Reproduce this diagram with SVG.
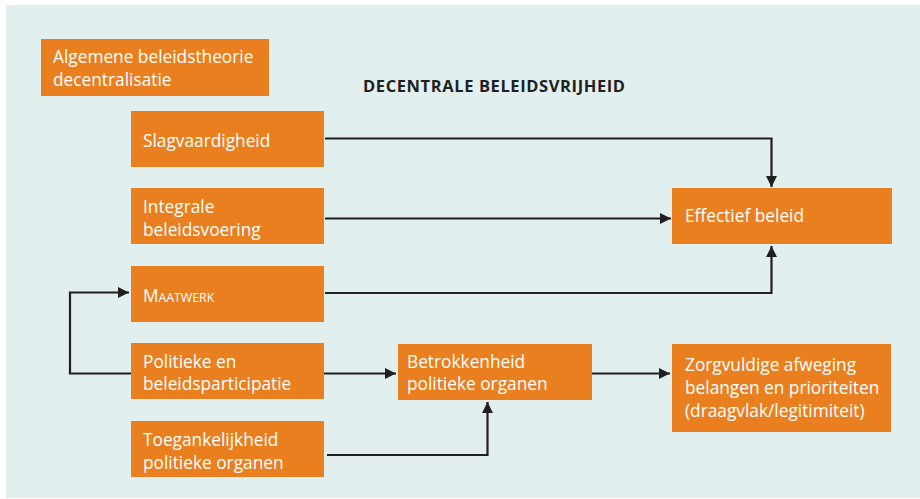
<svg xmlns="http://www.w3.org/2000/svg" width="920" height="499" viewBox="0 0 920 499">
<defs>
<style>
.box{fill:#e97f1f;}
.t{font-family:"Open Sans","Noto Sans",sans-serif;font-size:17.3px;fill:#ffffff;}
.title{font-family:"Open Sans","Noto Sans",sans-serif;font-size:16.5px;font-weight:bold;letter-spacing:0.6px;fill:#231f20;}
.c{fill:none;stroke:#231f20;stroke-width:2.2;}
</style>
<marker id="ah" markerUnits="userSpaceOnUse" markerWidth="12" markerHeight="12" viewBox="0 0 12 12" refX="11" refY="6" orient="auto">
<path d="M0,0.5 L11,6 L0,11.5 Z" fill="#231f20"/>
</marker>
</defs>
<rect x="0" y="0" width="920" height="499" fill="#ffffff"/>
<rect x="6" y="5" width="914" height="493" fill="#e1f0ef"/>
<text class="title" x="363" y="92">DECENTRALE BELEIDSVRIJHEID</text>
<g id="connectors">
<path class="c" d="M325,138.5 H771.5 V187" marker-end="url(#ah)"/>
<path class="c" d="M325,218.5 H671" marker-end="url(#ah)"/>
<path class="c" d="M325,293 H771.5 V246" marker-end="url(#ah)"/>
<path class="c" d="M131,373.5 H70 V292.5 H129" marker-end="url(#ah)"/>
<path class="c" d="M324,373.5 H396" marker-end="url(#ah)"/>
<path class="c" d="M592,373.5 H670" marker-end="url(#ah)"/>
<path class="c" d="M327,455 H487.5 V402" marker-end="url(#ah)"/>
</g>
<g id="algemene">
<rect class="box" x="41" y="39" width="228" height="57"/>
<text class="t" x="53" y="63">Algemene beleidstheorie</text>
<text class="t" x="53" y="86">decentralisatie</text>
</g>
<g id="slagvaardigheid">
<rect class="box" x="131" y="111" width="193" height="56"/>
<text class="t" x="143" y="147">Slagvaardigheid</text>
</g>
<g id="integrale">
<rect class="box" x="131" y="188" width="193" height="56"/>
<text class="t" x="143" y="213">Integrale</text>
<text class="t" x="143" y="236">beleidsvoering</text>
</g>
<g id="maatwerk">
<rect class="box" x="131" y="266" width="193" height="56"/>
<text class="t" x="143" y="302">M<tspan font-size="12.3px">AATWERK</tspan></text>
</g>
<g id="politieke">
<rect class="box" x="131" y="343" width="193" height="56"/>
<text class="t" x="143" y="368">Politieke en</text>
<text class="t" x="143" y="390">beleidsparticipatie</text>
</g>
<g id="toegankelijkheid">
<rect class="box" x="131" y="421" width="193" height="56"/>
<text class="t" x="143" y="446">Toegankelijkheid</text>
<text class="t" x="143" y="469">politieke organen</text>
</g>
<g id="betrokkenheid">
<rect class="box" x="398" y="344" width="194" height="56"/>
<text class="t" x="407" y="368">Betrokkenheid</text>
<text class="t" x="407" y="390">politieke organen</text>
</g>
<g id="effectief">
<rect class="box" x="672" y="188" width="220" height="56"/>
<text class="t" x="685" y="222">Effectief beleid</text>
</g>
<g id="zorgvuldige">
<rect class="box" x="672" y="344" width="219" height="88"/>
<text class="t" x="685" y="371">Zorgvuldige afweging</text>
<text class="t" x="685" y="394">belangen en prioriteiten</text>
<text class="t" x="685" y="417">(draagvlak/legitimiteit)</text>
</g>
</svg>
